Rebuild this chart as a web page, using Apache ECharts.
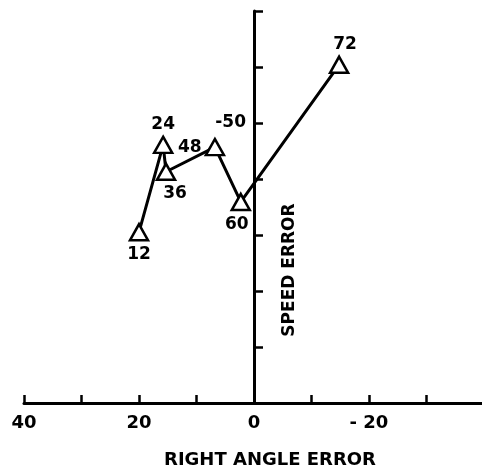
<!DOCTYPE html>
<html>
<head>
<meta charset="utf-8">
<script src="https://cdn.jsdelivr.net/npm/echarts@6/dist/echarts.min.js"></script>
<style>
html,body{margin:0;padding:0;background:#fff;}
#c{width:482px;height:474px;}
</style>
</head>
<body>
<div id="c"></div>
<script>
// Data
var pointLabels = ['12', '24', '36', '48', '60', '72'];
var rightAngleError = [20.0, 15.8, 15.3, 6.8, 2.3, -14.8];
var speedError = [-30.5, -46.1, -41.3, -45.7, -35.9, -60.4];
var xTickLabels = ['40', '20', '0', '- 20'];
var xTickValues = [40, 20, 0, -20];
var yTickLabels = ['-50'];
var yTickValues = [-50];

// Label placement (style only)
var labelPlace = [
  {position: 'bottom', offset: [0, 2]},
  {position: 'top', offset: [0, 0]},
  {position: 'bottom', offset: [9, 1]},
  {position: 'left', offset: [0, 0]},
  {position: 'bottom', offset: [-4, 2]},
  {position: 'top', offset: [6, 0]}
];

var FONT = 'DejaVu Sans';
var data = rightAngleError.map(function (x, i) {
  return {
    value: [x, speedError[i]],
    name: pointLabels[i],
    label: {show: true, position: labelPlace[i].position, offset: labelPlace[i].offset, distance: 3}
  };
});

var chart = echarts.init(document.getElementById('c'));
chart.setOption({
  backgroundColor: '#fff',
  animation: false,
  grid: {left: 24, width: 460, top: 11, height: 392, containLabel: false, outerBoundsMode: 'none'},
  xAxis: {
    type: 'value', min: -40, max: 40, interval: 10, inverse: true,
    splitLine: {show: false},
    axisLine: {onZero: false, lineStyle: {color: '#000', width: 3}},
    axisTick: {inside: true, length: 8, lineStyle: {color: '#000', width: 2.5}},
    axisLabel: {
      color: '#000', fontFamily: FONT, fontWeight: 'bold', fontSize: 18, margin: 11,
      showMinLabel: true, showMaxLabel: true, hideOverlap: false,
      formatter: function (v) {
        var i = xTickValues.indexOf(v);
        return i >= 0 ? xTickLabels[i] : '';
      }
    }
  },
  yAxis: {
    type: 'value', min: -70, max: 0, interval: 10, inverse: true,
    offset: -230,
    splitLine: {show: false},
    axisLine: {onZero: false, lineStyle: {color: '#000', width: 3}},
    axisTick: {inside: true, length: 9, lineStyle: {color: '#000', width: 2.5}},
    axisLabel: {
      color: '#000', fontFamily: FONT, fontWeight: 'bold', fontSize: 17, margin: 8,
      showMinLabel: true, showMaxLabel: true, hideOverlap: false,
      formatter: function (v) {
        var i = yTickValues.indexOf(v);
        return i >= 0 ? yTickLabels[i] : '';
      }
    }
  },
  series: [{
    type: 'line',
    data: data,
    symbol: 'triangle',
    symbolSize: [18, 16],
    lineStyle: {color: '#000', width: 3},
    itemStyle: {color: '#fff', borderColor: '#000', borderWidth: 2.5},
    label: {
      color: '#000', fontFamily: FONT, fontWeight: 'bold', fontSize: 17,
      formatter: function (p) { return p.name; }
    },
    z: 5
  }],
  graphic: [
    {
      type: 'text', x: 270, y: 460,
      style: {text: 'RIGHT ANGLE ERROR', fill: '#000', font: 'bold 18px "DejaVu Sans"', align: 'center', verticalAlign: 'middle'}
    },
    {
      type: 'text', x: 290, y: 270, rotation: Math.PI / 2,
      style: {text: 'SPEED ERROR', fill: '#000', font: 'bold 17px "DejaVu Sans"', align: 'center', verticalAlign: 'middle'}
    }
  ]
});
</script>
</body>
</html>
